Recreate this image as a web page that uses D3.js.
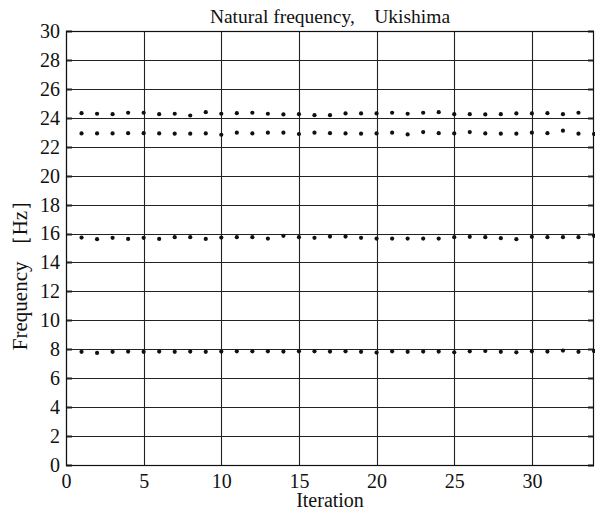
<!DOCTYPE html>
<html>
<head>
<meta charset="utf-8">
<script src="https://cdn.jsdelivr.net/npm/d3@7"></script>
<style>
  html, body { margin: 0; padding: 0; background: #fff; }
  svg { display: block; }
</style>
</head>
<body>
<svg id="chart" width="595" height="511"></svg>
<script>
const iterations = [1,2,3,4,5,6,7,8,9,10,11,12,13,14,15,16,17,18,19,20,21,22,23,24,25,26,27,28,29,30,31,32,33,34];
const mode1 = [7.82,7.75,7.82,7.84,7.82,7.84,7.82,7.84,7.82,7.84,7.86,7.86,7.86,7.84,7.86,7.86,7.84,7.86,7.82,7.77,7.86,7.82,7.84,7.84,7.79,7.86,7.88,7.82,7.79,7.86,7.84,7.91,7.82,7.88];
const mode2 = [15.72,15.61,15.70,15.63,15.70,15.63,15.75,15.75,15.63,15.72,15.75,15.75,15.65,15.84,15.75,15.70,15.79,15.79,15.70,15.65,15.65,15.65,15.65,15.65,15.75,15.77,15.75,15.68,15.61,15.77,15.75,15.75,15.75,15.84];
const mode3 = [22.92,22.92,22.92,22.94,22.94,22.92,22.90,22.90,22.92,22.83,22.97,22.92,22.97,22.97,22.88,22.97,22.94,22.92,22.90,22.92,22.97,22.85,23.01,22.94,22.92,23.01,22.92,22.90,22.90,22.97,22.94,23.11,22.90,22.88];
const mode4 = [24.32,24.28,24.25,24.35,24.35,24.25,24.28,24.16,24.39,24.28,24.32,24.35,24.28,24.23,24.25,24.18,24.18,24.30,24.30,24.30,24.35,24.28,24.35,24.39,24.25,24.25,24.23,24.25,24.30,24.30,24.32,24.25,24.35,null];
const xTicks = [0,5,10,15,20,25,30];
const yTicks = [0,2,4,6,8,10,12,14,16,18,20,22,24,26,28,30];
const titleText = "Natural frequency,\u2003Ukishima";
const xLabel = "Iteration";
const yLabel = "Frequency \uFF3BHz\uFF3D";

const FONT = "'Liberation Serif', 'Times New Roman', Tinos, 'DejaVu Serif', serif";
const svg = d3.select("#chart");
const L = 66, R = 594, T = 31, B = 465;
const x = d3.scaleLinear().domain([0, 34]).range([L, R]);
const y = d3.scaleLinear().domain([0, 30]).range([B, T]);

const g = svg.append("g");
g.selectAll("line.hg").data(yTicks).join("line")
  .attr("x1", L).attr("x2", R)
  .attr("y1", d => Math.round(y(d)) + 0.5).attr("y2", d => Math.round(y(d)) + 0.5)
  .attr("stroke", "#222").attr("stroke-width", 1.1);
g.selectAll("line.vg").data(xTicks).join("line")
  .attr("y1", T).attr("y2", B)
  .attr("x1", d => Math.round(x(d)) + 0.5).attr("x2", d => Math.round(x(d)) + 0.5)
  .attr("stroke", "#222").attr("stroke-width", 1.1);
g.selectAll("line.tl").data(yTicks).join("line")
  .attr("x1", L).attr("x2", L + 6)
  .attr("y1", d => Math.round(y(d)) + 0.5).attr("y2", d => Math.round(y(d)) + 0.5)
  .attr("stroke", "#222").attr("stroke-width", 2);
g.selectAll("line.tr").data(yTicks).join("line")
  .attr("x1", R - 6).attr("x2", R)
  .attr("y1", d => Math.round(y(d)) + 0.5).attr("y2", d => Math.round(y(d)) + 0.5)
  .attr("stroke", "#222").attr("stroke-width", 2);

svg.append("rect").attr("x", L + 0.5).attr("y", T + 0.5)
  .attr("width", R - L - 1).attr("height", B - T)
  .attr("fill", "none").attr("stroke", "#111").attr("stroke-width", 1.2);

const ax = svg.append("g").attr("transform", `translate(0,${B})`)
  .call(d3.axisBottom(x).tickValues(xTicks).tickSize(0).tickPadding(9).tickFormat(d3.format("d")));
ax.select(".domain").remove();
ax.selectAll("text").style("font-size", "20px").style("font-family", FONT).style("fill", "#111");

const ay = svg.append("g").attr("transform", `translate(${L},0)`)
  .call(d3.axisLeft(y).tickValues(yTicks).tickSize(0).tickPadding(6).tickFormat(d3.format("d")));
ay.select(".domain").remove();
ay.selectAll("text").style("font-size", "20px").style("font-family", FONT).style("fill", "#111");

const series = [mode1, mode2, mode3, mode4];
series.forEach(s => {
  const pts = iterations.map((it, i) => ({it, v: s[i]})).filter(d => d.v != null);
  svg.append("g").selectAll("circle").data(pts).join("circle")
    .attr("cx", d => x(d.it)).attr("cy", d => y(d.v))
    .attr("r", 2.1).attr("fill", "#111");
});

svg.append("text").attr("x", (L + R) / 2).attr("y", 23)
  .attr("text-anchor", "middle").style("font-size", "19.5px").style("font-family", FONT).style("fill", "#111").text(titleText);
svg.append("text").attr("x", (L + R) / 2).attr("y", 507)
  .attr("text-anchor", "middle").style("font-size", "20px").style("font-family", FONT).style("fill", "#111").text(xLabel);
svg.append("text").attr("transform", `translate(27,270) rotate(-90)`)
  .attr("text-anchor", "middle").style("font-size", "21px").style("font-family", FONT).style("fill", "#111").text(yLabel);
</script>
</body>
</html>
